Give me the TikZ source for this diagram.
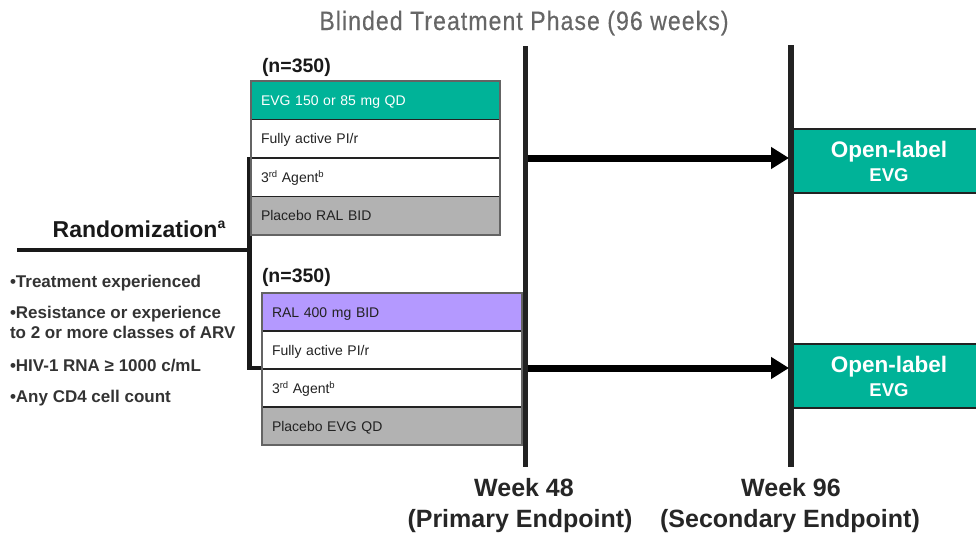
\documentclass[tikz,border=0pt]{standalone}
\usepackage{fontspec}
\setmainfont{Liberation Sans}
\newfontfamily\titlefont[FakeStretch=0.87,LetterSpace=4,FakeBold=0.4]{Liberation Sans}
\usetikzlibrary{arrows.meta}

\definecolor{evgteal}{RGB}{0,179,152}
\definecolor{ralpurple}{RGB}{180,153,255}
\definecolor{placebogray}{RGB}{178,178,178}
\definecolor{framegray}{RGB}{100,100,100}
\definecolor{inkdark}{RGB}{34,34,34}
\definecolor{titlegray}{RGB}{102,102,102}

% small raised text for ordinal and footnote marks
\newcommand{\supmark}[1]{\raisebox{0.32em}{\fontsize{9.5}{10}\selectfont #1}}

\begin{document}
\begin{tikzpicture}[x=1pt,y=-1pt,
  every node/.style={inner sep=0pt, outer sep=0pt},
  row/.style={draw=inkdark, line width=1.2pt, anchor=north west,
    minimum height=#1, inner xsep=10pt, align=left,
    text height=10pt, text depth=0pt,
    font=\fontsize{14}{16}\selectfont, text=inkdark},
  frame/.style={draw=framegray, line width=2.5pt},
  timeline/.style={draw=inkdark, line width=5.5pt},
  bracket/.style={draw=black!90, line width=4.5pt, line join=miter},
  flow/.style={draw=black, line width=7pt,
    -{Triangle[length=18pt,width=21pt]}},
  olbox/.style={fill=evgteal, draw=inkdark, line width=1.2pt,
    minimum width=192pt, minimum height=64pt, align=center,
    text=white, font=\bfseries\fontsize{22.5}{24}\selectfont},
  narm/.style={anchor=base west, font=\bfseries\fontsize{19.5}{22}\selectfont, text=black!90},
  crit/.style={anchor=base west, text=black!80,
    font=\bfseries\fontsize{17}{20}\selectfont},
  weeklbl/.style={anchor=base, text=black!85,
    font=\bfseries\fontsize{25}{28}\selectfont}]

\useasboundingbox (0,0) rectangle (976,538);

% heading
\node[anchor=base, font=\titlefont\fontsize{26.5}{28}\selectfont, text=titlegray]
  (title) at (524,30) {Blinded Treatment Phase (96 weeks)};

% randomization bracket
\coordinate (brtop) at (249.5,157);
\coordinate (brbot) at (249.5,368);
\coordinate (rl) at (17,250);
\draw[bracket] (rl) -- (rl -| brtop);
\draw[bracket] (brtop) -- (brbot) -- (262,368);

\node[anchor=base, font=\bfseries\fontsize{23}{26}\selectfont, text=black!90]
  (rand) at (139,237) {Randomization\raisebox{0.38em}{\fontsize{14}{14}\selectfont a}};

% inclusion criteria
\node[crit] (c1) at (10,287) {•Treatment experienced};
\node[crit] (c2) at (10,318) {•Resistance or experience};
\node[crit] (c2b) at (10,338) {to 2 or more classes of ARV};
\node[crit] (c3) at (10,371) {•HIV-1 RNA ≥ 1000 c/mL};
\node[crit] (c4) at (10,402) {•Any CD4 cell count};

% EVG arm
\node[narm] (n1) at (262,72) {(n=350)};
\node[row=38.5pt, text width=229pt, fill=evgteal, text=white] (a1) at (251,81) {EVG 150 or 85 mg QD};
\node[row=38.5pt, text width=229pt] (a2) at (a1.south west) {Fully active PI/r};
\node[row=38.5pt, text width=229pt] (a3) at (a2.south west) {3\supmark{rd} Agent\supmark{b}};
\node[row=38.5pt, text width=229pt, fill=placebogray] (a4) at (a3.south west) {Placebo RAL BID};
\draw[frame] (a1.north west) rectangle (a4.south east);

% RAL arm
\node[narm] (n2) at (262,282) {(n=350)};
\node[row=38pt, text width=240pt, fill=ralpurple] (b1) at (262,293) {RAL 400 mg BID};
\node[row=38pt, text width=240pt] (b2) at (b1.south west) {Fully active PI/r};
\node[row=38pt, text width=240pt] (b3) at (b2.south west) {3\supmark{rd} Agent\supmark{b}};
\node[row=38pt, text width=240pt, fill=placebogray] (b4) at (b3.south west) {Placebo EVG QD};
\draw[frame] (b1.north west) rectangle (b4.south east);

% open-label extension
\node[olbox] (ol1) at (889,161) {Open-label\\{\fontsize{18.5}{24}\selectfont EVG}};
\node[olbox] (ol2) at (889,376) {Open-label\\{\fontsize{18.5}{24}\selectfont EVG}};

% time lines
\coordinate (w48top) at (525.5,46);
\coordinate (w48bot) at (525.5,467);
\coordinate (w96top) at (791,45);
\coordinate (w96bot) at (791,467);
\draw[timeline] (w48top) -- (w48bot);
\draw[timeline] (w96top) -- (w96bot);

% transitions to open-label
\coordinate (s1) at (528,158);
\coordinate (s2) at (528,368);
\draw[flow] (s1) -- ([xshift=-4pt]s1 -| ol1.west);
\draw[flow] (s2) -- ([xshift=-4pt]s2 -| ol2.west);

% time points
\node[weeklbl] (wk48) at (524,496) {Week 48};
\node[weeklbl] (ep48) at (520,527) {(Primary Endpoint)};
\node[weeklbl] (wk96) at (791,496) {Week 96};
\node[weeklbl] (ep96) at (790,527) {(Secondary Endpoint)};
\end{tikzpicture}
\end{document}
